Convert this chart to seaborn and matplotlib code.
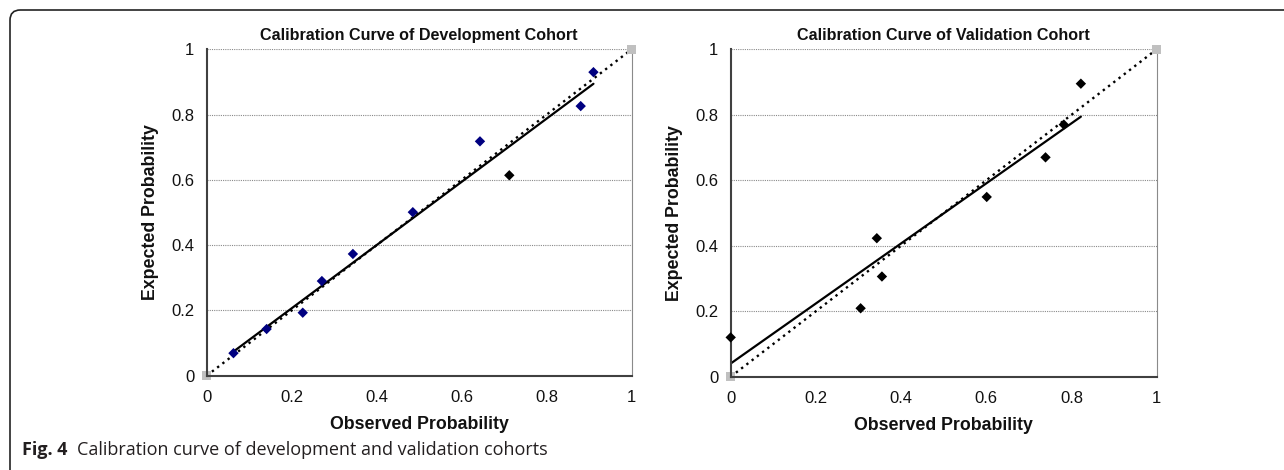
import numpy as np
import pandas as pd
import matplotlib
matplotlib.use("Agg")
import matplotlib.pyplot as plt
import seaborn as sns
from matplotlib.patches import FancyBboxPatch
from matplotlib.text import Annotation

# ---- data ----
dev_observed = [0.063, 0.141, 0.226, 0.271, 0.344, 0.485, 0.643, 0.712, 0.880, 0.910]
dev_expected = [0.069, 0.143, 0.193, 0.290, 0.373, 0.501, 0.718, 0.614, 0.826, 0.930]
dev_group = ["a", "a", "a", "a", "a", "a", "a", "b", "a", "a"]

val_observed = [0.000, 0.305, 0.343, 0.355, 0.601, 0.739, 0.782, 0.822]
val_expected = [0.120, 0.209, 0.423, 0.306, 0.549, 0.670, 0.770, 0.895]

ref_x = [0.0, 1.0]
ref_y = [0.0, 1.0]

ticks = [0, 0.2, 0.4, 0.6, 0.8, 1]
tick_labels = ["0", "0.2", "0.4", "0.6", "0.8", "1"]

titles = ["Calibration Curve of Development Cohort", "Calibration Curve of Validation Cohort"]
xlabel = "Observed Probability"
ylabel = "Expected Probability"
caption_bold = "Fig. 4"
caption_text = "Calibration curve of development and validation cohorts"

# ---- style ----
sns.set_style("white")
plt.rcParams["font.family"] = ["Liberation Sans", "DejaVu Sans"]

W, H = 1284, 470
fig = plt.figure(figsize=(W / 100, H / 100), dpi=100)

def px_axes(x0, x1, ytop, ybot):
    return fig.add_axes([x0 / W, (H - ybot) / H, (x1 - x0) / W, (ybot - ytop) / H])

ax1 = px_axes(206.7, 631.7, 49.3, 375.7)
ax2 = px_axes(730.7, 1156.7, 49.3, 376.7)

palette = {"a": "#000080", "b": "#000000"}

def style_axes(ax, title):
    ax.set_xlim(0, 1)
    ax.set_ylim(0, 1)
    ax.set_xticks(ticks)
    ax.set_xticklabels(tick_labels)
    ax.set_yticks(ticks)
    ax.set_yticklabels(tick_labels)
    ax.tick_params(axis="x", direction="in", length=4, width=1, color="#404040",
                   pad=10, labelsize=12, labelcolor="#111111")
    ax.tick_params(axis="y", length=0, pad=9, labelsize=12, labelcolor="#111111")
    ax.yaxis.grid(True, linestyle=(0, (1, 1)), color="#8a8a8a", linewidth=0.8)
    ax.xaxis.grid(False)
    for s in ["left", "bottom"]:
        ax.spines[s].set_color("#404040")
        ax.spines[s].set_linewidth(1.5)
        ax.spines[s].set_zorder(5)
    ax.spines["top"].set_visible(False)
    ax.spines["right"].set_color("#8a8a8a")
    ax.spines["right"].set_linestyle((0, (1, 1)))
    ax.spines["right"].set_linewidth(0.8)
    ax.set_title(title, fontsize=11.6, fontweight="bold", pad=7, color="#111111")
    ax.set_xlabel(xlabel, fontsize=12.8, fontweight="bold", labelpad=8, color="#111111")
    ax.set_ylabel(ylabel, fontsize=12.8, fontweight="bold", labelpad=9, color="#111111")

def draw_ref(ax):
    ref = pd.DataFrame({"x": ref_x, "y": ref_y})
    sns.lineplot(data=ref, x="x", y="y", ax=ax, color="black", linewidth=1.7,
                 linestyle=(0, (1, 1.8)), zorder=3)
    sns.scatterplot(data=ref, x="x", y="y", ax=ax, marker="s", s=45, color="#c0c0c0",
                    edgecolor="none", zorder=4, clip_on=False)

# development
draw_ref(ax1)
dev = pd.DataFrame({"obs": dev_observed, "exp": dev_expected, "g": dev_group})
sns.regplot(data=dev, x="obs", y="exp", ax=ax1, ci=None, scatter=False,
            line_kws=dict(color="black", linewidth=1.6, zorder=5))
sns.scatterplot(data=dev, x="obs", y="exp", hue="g", palette=palette, ax=ax1,
                marker="D", s=28, edgecolor="none", legend=False, zorder=6)
style_axes(ax1, titles[0])

# validation
draw_ref(ax2)
val = pd.DataFrame({"obs": val_observed, "exp": val_expected})
sns.regplot(data=val, x="obs", y="exp", ax=ax2, ci=None, scatter=False,
            line_kws=dict(color="black", linewidth=1.6, zorder=5))
sns.scatterplot(data=val, x="obs", y="exp", ax=ax2, color="black",
                marker="D", s=28, edgecolor="none", legend=False, zorder=6, clip_on=False)
style_axes(ax2, titles[1])

# figure frame (top and left edges with rounded corner)
frame = FancyBboxPatch((10 / W, -0.2), 1.2, (H - 10) / H + 0.2,
                       boxstyle="round,pad=0,rounding_size=0.008",
                       transform=fig.transFigure, fill=False, edgecolor="#222222",
                       linewidth=1.2, mutation_aspect=W / H)
fig.patches.append(frame)

# caption
cap_font = ["Open Sans", "DejaVu Sans"]
tb = fig.text(22 / W, (H - 455) / H, caption_bold, fontsize=13, fontweight="bold",
              family=cap_font, color="#231f20", va="baseline", ha="left")
an = Annotation(caption_text, xy=(1, 0), xycoords=tb, xytext=(10, 0), textcoords="offset pixels",
                fontsize=13, family=cap_font, color="#231f20", va="bottom", ha="left")
fig.add_artist(an)

fig.savefig("out.png", dpi=100)
